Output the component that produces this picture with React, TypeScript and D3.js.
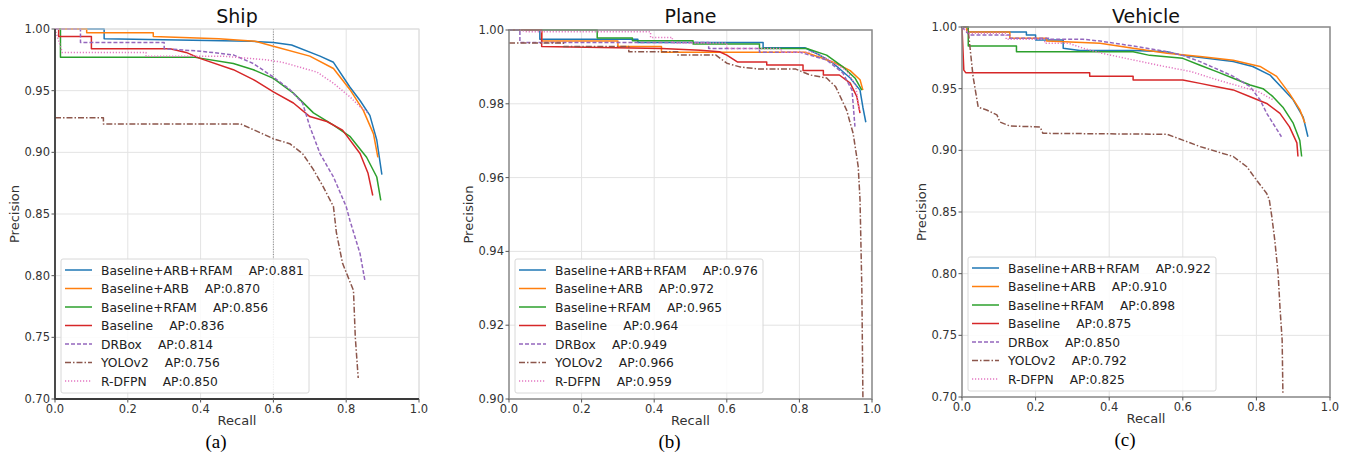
import React from 'react';
import * as d3 from 'd3';

type Pt = [number, number];

// legend names, shared by all three panels
const methods = ['Baseline+ARB+RFAM', 'Baseline+ARB', 'Baseline+RFAM', 'Baseline', 'DRBox', 'YOLOv2', 'R-DFPN'];
const colors = ['#1f77b4', '#ff7f0e', '#2ca02c', '#d62728', '#9467bd', '#8c564b', '#e377c2'];
const dashes = [null, null, null, null, '4,2', '6,2,1.5,2', '1.2,1.8'];

const shipAP = ['0.881', '0.870', '0.856', '0.836', '0.814', '0.756', '0.850'];
const planeAP = ['0.976', '0.972', '0.965', '0.964', '0.949', '0.966', '0.959'];
const vehicleAP = ['0.922', '0.910', '0.898', '0.875', '0.850', '0.792', '0.825'];

const recallTicks = [0, 0.2, 0.4, 0.6, 0.8, 1.0];
const shipTicks = [0.7, 0.75, 0.8, 0.85, 0.9, 0.95, 1.0];
const planeTicks = [0.9, 0.92, 0.94, 0.96, 0.98, 1.0];
const vehicleTicks = [0.7, 0.75, 0.8, 0.85, 0.9, 0.95, 1.0];

// ---- Ship: [recall, precision]
const shipBlue: Pt[] = [[0, 1.0], [0.135, 1.0], [0.135, 0.992], [0.54, 0.99], [0.6, 0.989], [0.65, 0.987], [0.728, 0.978], [0.765, 0.973], [0.81, 0.953], [0.838, 0.942], [0.865, 0.93], [0.884, 0.91], [0.898, 0.882]];
const shipOrange: Pt[] = [[0, 1.0], [0.087, 1.0], [0.087, 0.997], [0.27, 0.997], [0.27, 0.994], [0.45, 0.992], [0.55, 0.99], [0.6, 0.986], [0.7, 0.978], [0.765, 0.968], [0.81, 0.951], [0.847, 0.934], [0.875, 0.915], [0.887, 0.896]];
const shipGreen: Pt[] = [[0, 1.0], [0.015, 1.0], [0.015, 0.977], [0.385, 0.977], [0.49, 0.972], [0.545, 0.967], [0.6, 0.96], [0.655, 0.948], [0.71, 0.932], [0.765, 0.922], [0.81, 0.913], [0.856, 0.896], [0.884, 0.88], [0.895, 0.861]];
const shipRed: Pt[] = [[0, 1.0], [0.01, 1.0], [0.01, 0.994], [0.1, 0.994], [0.1, 0.984], [0.316, 0.984], [0.36, 0.981], [0.4, 0.976], [0.49, 0.967], [0.545, 0.959], [0.6, 0.949], [0.655, 0.94], [0.7, 0.929], [0.747, 0.925], [0.79, 0.918], [0.838, 0.899], [0.86, 0.883], [0.873, 0.865]];
const shipPurple: Pt[] = [[0, 1.0], [0.07, 1.0], [0.07, 0.989], [0.3, 0.989], [0.3, 0.984], [0.4, 0.982], [0.49, 0.979], [0.545, 0.972], [0.6, 0.961], [0.645, 0.951], [0.68, 0.94], [0.7, 0.921], [0.728, 0.899], [0.765, 0.88], [0.8, 0.856], [0.81, 0.845], [0.838, 0.818], [0.852, 0.795]];
const shipBrown: Pt[] = [[0, 0.928], [0.133, 0.928], [0.133, 0.923], [0.51, 0.923], [0.563, 0.916], [0.6, 0.911], [0.645, 0.907], [0.68, 0.899], [0.71, 0.886], [0.737, 0.872], [0.765, 0.856], [0.773, 0.835], [0.79, 0.81], [0.82, 0.788], [0.825, 0.75], [0.833, 0.717]];
const shipPink: Pt[] = [[0, 1.0], [0.02, 0.981], [0.25, 0.981], [0.25, 0.978], [0.46, 0.978], [0.58, 0.975], [0.625, 0.973], [0.673, 0.969], [0.72, 0.965], [0.765, 0.956], [0.81, 0.945], [0.838, 0.937], [0.86, 0.932]];

// ---- Plane
const planeBlue: Pt[] = [[0, 1.0], [0.085, 1.0], [0.085, 0.9975], [0.355, 0.9975], [0.355, 0.9966], [0.7, 0.9966], [0.7, 0.9952], [0.815, 0.9952], [0.85, 0.9935], [0.893, 0.991], [0.94, 0.987], [0.967, 0.9837], [0.975, 0.979], [0.983, 0.975]];
const planeOrange: Pt[] = [[0, 1.0], [0.09, 1.0], [0.09, 0.997], [0.3, 0.997], [0.3, 0.9955], [0.42, 0.9955], [0.42, 0.994], [0.815, 0.994], [0.86, 0.9925], [0.9, 0.991], [0.94, 0.989], [0.967, 0.9865], [0.975, 0.9837]];
const planeGreen: Pt[] = [[0, 1.0], [0.243, 1.0], [0.243, 0.9978], [0.34, 0.9978], [0.34, 0.9971], [0.507, 0.9971], [0.507, 0.9962], [0.69, 0.9962], [0.69, 0.995], [0.82, 0.995], [0.875, 0.9932], [0.92, 0.99], [0.953, 0.987], [0.972, 0.9837]];
const planeRed: Pt[] = [[0, 1.0], [0.09, 1.0], [0.09, 0.9955], [0.42, 0.995], [0.527, 0.9945], [0.58, 0.9941], [0.6, 0.9932], [0.63, 0.9913], [0.71, 0.9913], [0.71, 0.9905], [0.81, 0.9905], [0.81, 0.989], [0.866, 0.989], [0.866, 0.9878], [0.91, 0.9878], [0.94, 0.9856], [0.958, 0.982], [0.967, 0.9775]];
const planePurple: Pt[] = [[0, 1.0], [0.03, 1.0], [0.03, 0.9966], [0.55, 0.9966], [0.55, 0.995], [0.69, 0.995], [0.69, 0.994], [0.8, 0.994], [0.875, 0.9919], [0.92, 0.9883], [0.945, 0.9837], [0.953, 0.9738]];
const planeBrown: Pt[] = [[0, 0.9965], [0.15, 0.9965], [0.15, 0.9955], [0.33, 0.9955], [0.33, 0.9941], [0.465, 0.9941], [0.465, 0.9932], [0.57, 0.9932], [0.6, 0.991], [0.636, 0.99], [0.69, 0.9894], [0.79, 0.9894], [0.83, 0.9878], [0.875, 0.987], [0.9, 0.9846], [0.93, 0.9783], [0.948, 0.972], [0.962, 0.963], [0.967, 0.954], [0.972, 0.93], [0.975, 0.9]];
const planePink: Pt[] = [[0.03, 1.0], [0.05, 0.9995], [0.39, 0.9995], [0.39, 0.998], [0.45, 0.998], [0.45, 0.9965], [0.6, 0.9965], [0.6, 0.995], [0.75, 0.995], [0.75, 0.994], [0.84, 0.994], [0.88, 0.992], [0.93, 0.989], [0.955, 0.985], [0.965, 0.978]];

// ---- Vehicle
const vehBlue: Pt[] = [[0, 1.0], [0.013, 1.0], [0.013, 0.996], [0.175, 0.996], [0.175, 0.9935], [0.2, 0.9935], [0.2, 0.9895], [0.275, 0.9895], [0.275, 0.9827], [0.32, 0.981], [0.465, 0.981], [0.557, 0.98], [0.6, 0.977], [0.665, 0.9746], [0.737, 0.972], [0.79, 0.968], [0.837, 0.961], [0.872, 0.95], [0.9, 0.941], [0.927, 0.927], [0.94, 0.911]];
const vehOrange: Pt[] = [[0, 1.0], [0.013, 1.0], [0.013, 0.996], [0.13, 0.996], [0.13, 0.9908], [0.23, 0.9908], [0.23, 0.9886], [0.375, 0.9868], [0.465, 0.9827], [0.557, 0.9787], [0.647, 0.976], [0.737, 0.973], [0.81, 0.968], [0.855, 0.96], [0.89, 0.946], [0.918, 0.933], [0.932, 0.922]];
const vehGreen: Pt[] = [[0, 1.0], [0.017, 1.0], [0.017, 0.9846], [0.148, 0.9846], [0.148, 0.98], [0.465, 0.98], [0.51, 0.977], [0.6, 0.9746], [0.647, 0.969], [0.692, 0.9638], [0.737, 0.9584], [0.783, 0.953], [0.818, 0.95], [0.845, 0.9435], [0.872, 0.935], [0.9, 0.922], [0.918, 0.908], [0.923, 0.895]];
const vehRed: Pt[] = [[0, 1.0], [0.005, 0.965], [0.01, 0.963], [0.347, 0.963], [0.347, 0.96], [0.465, 0.96], [0.465, 0.957], [0.6, 0.957], [0.647, 0.9543], [0.692, 0.9516], [0.737, 0.949], [0.783, 0.9435], [0.828, 0.938], [0.864, 0.93], [0.89, 0.919], [0.91, 0.906], [0.913, 0.895]];
const vehPurple: Pt[] = [[0, 1.0], [0.02, 0.9935], [0.13, 0.9935], [0.13, 0.9908], [0.24, 0.9908], [0.24, 0.99], [0.33, 0.99], [0.375, 0.9886], [0.465, 0.9846], [0.557, 0.98], [0.6, 0.977], [0.647, 0.9719], [0.7, 0.965], [0.737, 0.96], [0.783, 0.9516], [0.81, 0.941], [0.828, 0.93], [0.845, 0.922], [0.868, 0.911]];
const vehBrown: Pt[] = [[0, 1.0], [0.016, 1.0], [0.03, 0.96], [0.044, 0.935], [0.067, 0.9327], [0.095, 0.9287], [0.103, 0.923], [0.13, 0.9197], [0.212, 0.919], [0.22, 0.9138], [0.557, 0.913], [0.6, 0.9083], [0.647, 0.903], [0.692, 0.899], [0.737, 0.895], [0.774, 0.8867], [0.8, 0.876], [0.828, 0.865], [0.835, 0.86], [0.842, 0.846], [0.85, 0.827], [0.859, 0.8], [0.864, 0.773], [0.87, 0.746], [0.872, 0.703]];
const vehPink: Pt[] = [[0, 1.0], [0.02, 0.995], [0.12, 0.995], [0.12, 0.99], [0.225, 0.99], [0.225, 0.9868], [0.29, 0.9868], [0.33, 0.9827], [0.38, 0.9787], [0.533, 0.969], [0.623, 0.9638], [0.695, 0.957], [0.758, 0.9516], [0.805, 0.9476], [0.845, 0.941]];

const FONT = 'DejaVu Sans, sans-serif';

const panels = [
  { title: 'Ship', caption: '(a)', x0: 55, x1: 419, y0: 29, y1: 399, yDomain: [0.7, 1.0], yTicks: shipTicks,
    series: [shipBlue, shipOrange, shipGreen, shipRed, shipPurple, shipBrown, shipPink], ap: shipAP, open: true },
  { title: 'Plane', caption: '(b)', x0: 509, x1: 872, y0: 30, y1: 399, yDomain: [0.9, 1.0], yTicks: planeTicks,
    series: [planeBlue, planeOrange, planeGreen, planeRed, planePurple, planeBrown, planePink], ap: planeAP, open: false },
  { title: 'Vehicle', caption: '(c)', x0: 962, x1: 1330, y0: 27, y1: 397, yDomain: [0.7, 1.0], yTicks: vehicleTicks,
    series: [vehBlue, vehOrange, vehGreen, vehRed, vehPurple, vehBrown, vehPink], ap: vehicleAP, open: false },
];

function Panel({ p }: { p: typeof panels[number] }) {
  const x = d3.scaleLinear().domain([0, 1]).range([p.x0, p.x1]);
  const y = d3.scaleLinear().domain(p.yDomain).range([p.y1, p.y0]);
  const line = d3.line<Pt>().x(d => x(d[0])).y(d => y(d[1]));
  const cx = (p.x0 + p.x1) / 2;
  const cy = (p.y0 + p.y1) / 2;
  const lx = p.x0 + 6;
  const lh = 134;
  const ly = p.y1 - 6 - lh;
  const frame = p.open ? '#dcdcdc' : '#8a8a8a';
  return (
    <g>
      {/* grid */}
      {recallTicks.map(t => (
        <line key={'gx' + t} x1={x(t)} x2={x(t)} y1={p.y0} y2={p.y1} stroke="#e3e3e3" strokeWidth={1} />
      ))}
      {p.yTicks.map(t => (
        <line key={'gy' + t} x1={p.x0} x2={p.x1} y1={y(t)} y2={y(t)} stroke="#e3e3e3" strokeWidth={1} />
      ))}
      {p.open && (
        <line x1={x(0.6)} x2={x(0.6)} y1={p.y0} y2={p.y1} stroke="#777" strokeWidth={0.8} strokeDasharray="1,1.5" />
      )}
      {/* curves */}
      {p.series.map((s, i) => (
        <path key={i} d={line(s) || ''} fill="none" stroke={colors[i]} strokeWidth={1.5}
          strokeDasharray={dashes[i] || undefined} strokeLinejoin="round" />
      ))}
      {/* frame */}
      <rect x={p.x0} y={p.y0} width={p.x1 - p.x0} height={p.y1 - p.y0} fill="none" stroke={frame} strokeWidth={p.open ? 1 : 1.5} />
      {p.open && (
        <path d={`M${p.x0},${p.y0}V${p.y1}H${p.x1}`} fill="none" stroke="#3a3a3a" strokeWidth={1.8} />
      )}
      {/* ticks */}
      {recallTicks.map(t => (
        <g key={'tx' + t}>
          <line x1={x(t)} x2={x(t)} y1={p.y1} y2={p.y1 + 3.5} stroke="#555" strokeWidth={1} />
          <text x={x(t)} y={p.y1 + 14} textAnchor="middle" fontSize={11.5} fill="#333" fontFamily={FONT}>{t.toFixed(1)}</text>
        </g>
      ))}
      {p.yTicks.map(t => (
        <g key={'ty' + t}>
          <line x1={p.x0 - 3.5} x2={p.x0} y1={y(t)} y2={y(t)} stroke="#555" strokeWidth={1} />
          <text x={p.x0 - 5} y={y(t) + 4} textAnchor="end" fontSize={11.5} fill="#333" fontFamily={FONT}>{t.toFixed(2)}</text>
        </g>
      ))}
      <text x={cx} y={23} textAnchor="middle" fontSize={19} fill="#111" fontFamily={FONT}>{p.title}</text>
      <text x={cx} y={p.y1 + 26} textAnchor="middle" fontSize={13} fill="#333" fontFamily={FONT}>Recall</text>
      <text transform={`translate(${p.x0 - 36},${cy}) rotate(-90)`} textAnchor="middle" fontSize={13} fill="#333" fontFamily={FONT}>Precision</text>
      <text x={cx - 21} y={p.y1 + 49} textAnchor="middle" fontSize={19} fill="#000" fontFamily="Liberation Serif, serif">{p.caption}</text>
      {/* legend */}
      <rect x={lx} y={ly} width={248} height={lh} rx={2} fill="#fff" fillOpacity={0.85} stroke="#d8d8d8" strokeWidth={1} />
      {methods.map((m, i) => {
        const ry = ly + 11 + i * 18.5;
        return (
          <g key={m}>
            <line x1={lx + 4} x2={lx + 31} y1={ry} y2={ry} stroke={colors[i]} strokeWidth={1.5}
              strokeDasharray={dashes[i] || undefined} />
            <text x={lx + 40} y={ry + 4.5} fontSize={12.3} fill="#222" fontFamily={FONT}>
              {m}<tspan dx={16}>{'AP:' + p.ap[i]}</tspan>
            </text>
          </g>
        );
      })}
    </g>
  );
}

export default function App() {
  return (
    <svg width={1352} height={458} style={{ position: 'absolute', left: 0, top: 0, background: '#fff' }}>
      <rect width={1352} height={458} fill="#fff" />
      {panels.map(p => <Panel key={p.title} p={p} />)}
    </svg>
  );
}
